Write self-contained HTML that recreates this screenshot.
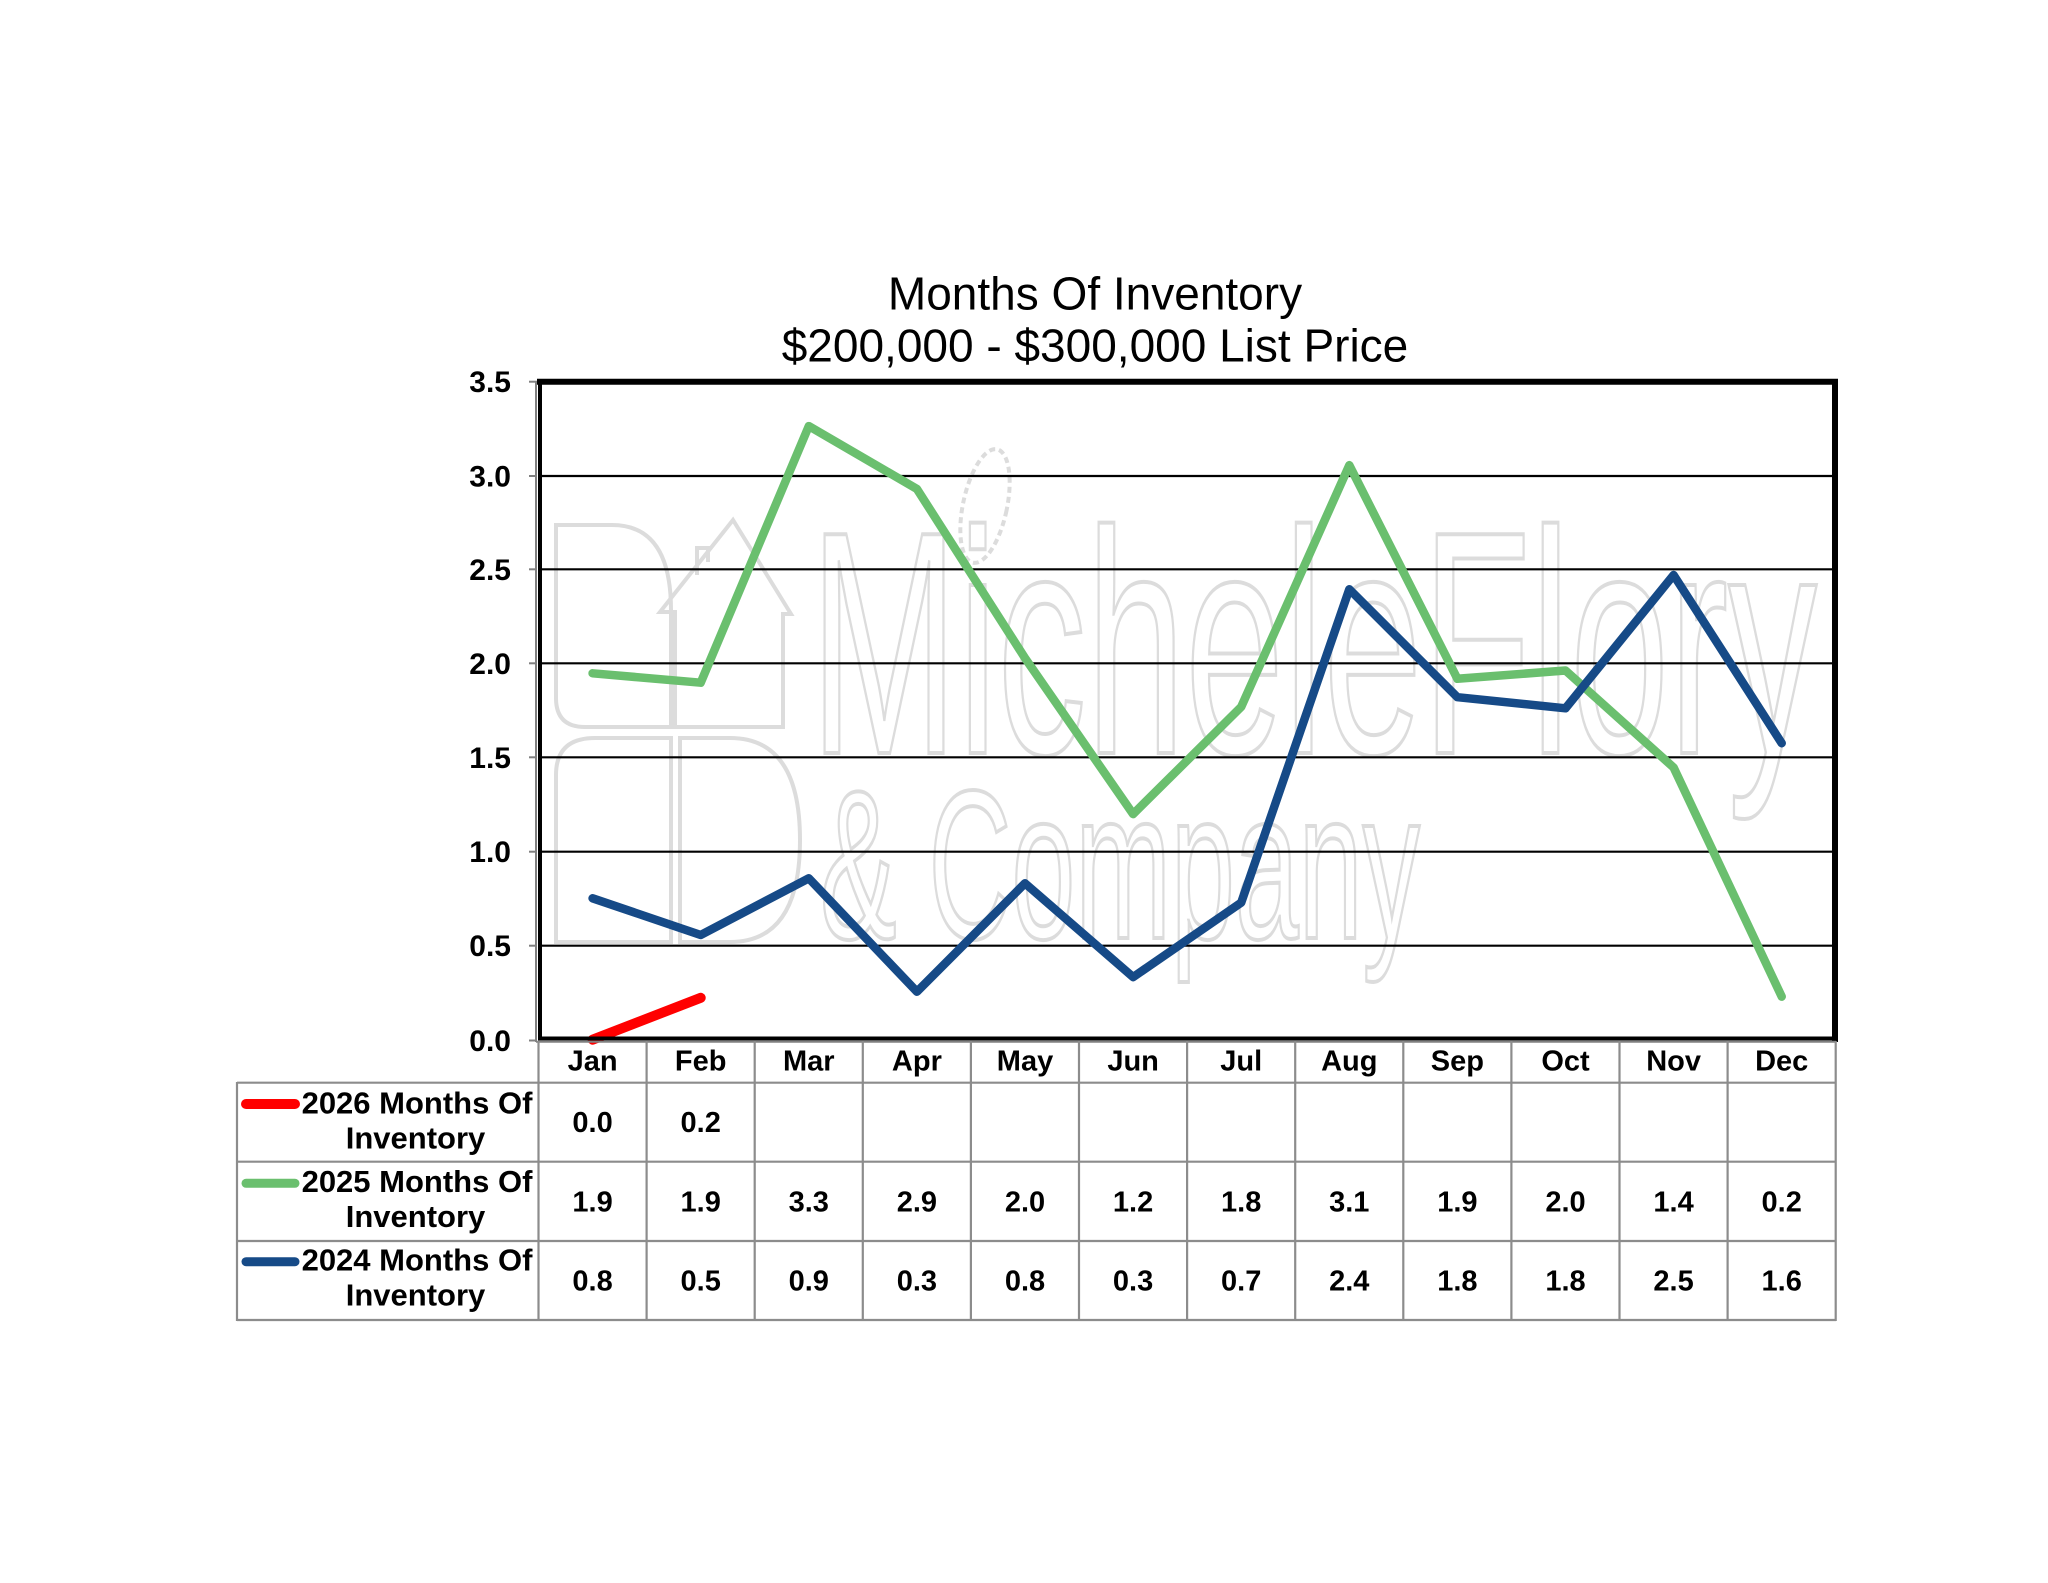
<!DOCTYPE html>
<html>
<head>
<meta charset="utf-8">
<style>
  html, body { margin: 0; padding: 0; background: #ffffff; }
  svg { display: block; }
  text { font-family: "Liberation Sans", Arial, sans-serif; }
</style>
</head>
<body>
<svg width="2048" height="1583" viewBox="0 0 2048 1583" xmlns="http://www.w3.org/2000/svg">
  <rect x="0" y="0" width="2048" height="1583" fill="#ffffff"/>

  <!-- Title -->
  <text x="1095" y="309.3" font-size="46" text-anchor="middle" fill="#000">Months Of Inventory</text>
  <text x="1095" y="361.7" font-size="46" text-anchor="middle" fill="#000">$200,000 - $300,000 List Price</text>

  <!-- Watermark -->
  <g fill="none" stroke="#dcdcdc" stroke-width="4">
    <!-- upper logo D -->
    <path d="M556,525 H612 Q671,525 671,610 V727 H585 Q556,727 556,698 Z"/>
    <!-- house -->
    <path d="M675,727 V612 H660 L733,520 L791,614 H783 V727 Z"/>
    <path d="M697,575 V548 H708 V562"/>
    <!-- lower logo -->
    <path d="M556,942 V775 Q556,738 595,738 H671 V942 Z"/>
    <path d="M680,942 V738 H730 Q800,738 800,840 Q800,942 730,942 Z"/>
    <!-- feather -->
    <ellipse cx="985" cy="506" rx="22" ry="58" transform="rotate(12 985 506)" stroke-dasharray="6 4"/>
    <text x="810" y="753" font-size="318" textLength="1007" lengthAdjust="spacingAndGlyphs" stroke="#dcdcdc" stroke-width="4" fill="none">MicheleFlory</text>
    <text x="820" y="938" font-size="212" textLength="600" lengthAdjust="spacingAndGlyphs" stroke="#dcdcdc" stroke-width="4" fill="none">&amp; Company</text>
  </g>

  <!-- Gridlines -->
  <g stroke="#000" stroke-width="2.2">
    <line x1="540" y1="476" x2="1835" y2="476"/>
    <line x1="540" y1="569.3" x2="1835" y2="569.3"/>
    <line x1="540" y1="663.3" x2="1835" y2="663.3"/>
    <line x1="540" y1="757.3" x2="1835" y2="757.3"/>
    <line x1="540" y1="851.7" x2="1835" y2="851.7"/>
    <line x1="540" y1="945.7" x2="1835" y2="945.7"/>
  </g>

  <!-- Ticks -->
  <g stroke="#808080" stroke-width="2">
    <line x1="529" y1="381.7" x2="537" y2="381.7"/>
    <line x1="529" y1="476" x2="537" y2="476"/>
    <line x1="529" y1="569.3" x2="537" y2="569.3"/>
    <line x1="529" y1="663.3" x2="537" y2="663.3"/>
    <line x1="529" y1="757.3" x2="537" y2="757.3"/>
    <line x1="529" y1="851.7" x2="537" y2="851.7"/>
    <line x1="529" y1="945.7" x2="537" y2="945.7"/>
    <line x1="529" y1="1040.5" x2="537" y2="1040.5"/>
    <line x1="536" y1="381" x2="536" y2="1042"/>
  </g>

  <!-- Y axis labels -->
  <g font-size="30" font-weight="bold" text-anchor="end" fill="#000">
    <text x="511" y="392">3.5</text>
    <text x="511" y="486.5">3.0</text>
    <text x="511" y="580">2.5</text>
    <text x="511" y="674">2.0</text>
    <text x="511" y="768">1.5</text>
    <text x="511" y="862">1.0</text>
    <text x="511" y="956">0.5</text>
    <text x="511" y="1051">0.0</text>
  </g>

  <!-- Series -->
  <g fill="none" stroke-linecap="round" stroke-linejoin="round">
    <polyline stroke="#6abf6e" stroke-width="8.5" points="592.6,673.3 700.7,682.7 808.8,426.1 916.9,488.9 1025,658.1 1133.1,814.1 1241.2,706.9 1349.3,465.2 1457.4,678.8 1565.5,670.5 1673.6,767.5 1781.7,996.6"/>
    <polyline stroke="#164a87" stroke-width="8.5" points="592.6,898.3 700.7,935 808.8,878.3 916.9,991.7 1025,883.3 1133.1,977.1 1241.2,902.6 1349.3,589.3 1457.4,697.2 1565.5,708.3 1673.6,575 1781.7,743.2"/>
    <polyline stroke="#ff0000" stroke-width="10" points="592.6,1039.7 700.7,997.8"/>
  </g>

  <!-- Plot frame -->
  <g stroke="#000" fill="none">
    <line x1="537" y1="381.7" x2="1838" y2="381.7" stroke-width="6"/>
    <line x1="1835" y1="379" x2="1835" y2="1042" stroke-width="6"/>
    <line x1="540" y1="380" x2="540" y2="1040" stroke-width="4"/>
    <line x1="538" y1="1038.5" x2="1838" y2="1038.5" stroke-width="4"/>
  </g>
  <line x1="536" y1="1041.8" x2="1836" y2="1041.8" stroke="#808080" stroke-width="2"/>

  <!-- Data table grid -->
  <g stroke="#8c8c8c" stroke-width="2.2">
    <line x1="237" y1="1082.7" x2="1836" y2="1082.7"/>
    <line x1="237" y1="1161.7" x2="1836" y2="1161.7"/>
    <line x1="237" y1="1241" x2="1836" y2="1241"/>
    <line x1="237" y1="1320" x2="1836" y2="1320"/>
    <line x1="237" y1="1082" x2="237" y2="1321"/>
    <line x1="538.5" y1="1041" x2="538.5" y2="1321"/>
    <line x1="646.6" y1="1041" x2="646.6" y2="1321"/>
    <line x1="754.7" y1="1041" x2="754.7" y2="1321"/>
    <line x1="862.8" y1="1041" x2="862.8" y2="1321"/>
    <line x1="970.9" y1="1041" x2="970.9" y2="1321"/>
    <line x1="1079" y1="1041" x2="1079" y2="1321"/>
    <line x1="1187.1" y1="1041" x2="1187.1" y2="1321"/>
    <line x1="1295.2" y1="1041" x2="1295.2" y2="1321"/>
    <line x1="1403.3" y1="1041" x2="1403.3" y2="1321"/>
    <line x1="1511.4" y1="1041" x2="1511.4" y2="1321"/>
    <line x1="1619.5" y1="1041" x2="1619.5" y2="1321"/>
    <line x1="1727.6" y1="1041" x2="1727.6" y2="1321"/>
    <line x1="1835.7" y1="1041" x2="1835.7" y2="1321"/>
  </g>

  <!-- Month headers -->
  <g font-size="29" font-weight="bold" text-anchor="middle" fill="#000">
    <text x="592.6" y="1070.7">Jan</text>
    <text x="700.7" y="1070.7">Feb</text>
    <text x="808.8" y="1070.7">Mar</text>
    <text x="916.9" y="1070.7">Apr</text>
    <text x="1025" y="1070.7">May</text>
    <text x="1133.1" y="1070.7">Jun</text>
    <text x="1241.2" y="1070.7">Jul</text>
    <text x="1349.3" y="1070.7">Aug</text>
    <text x="1457.4" y="1070.7">Sep</text>
    <text x="1565.5" y="1070.7">Oct</text>
    <text x="1673.6" y="1070.7">Nov</text>
    <text x="1781.7" y="1070.7">Dec</text>
  </g>

  <!-- Table values -->
  <g font-size="29" font-weight="bold" text-anchor="middle" fill="#000">
    <text x="592.6" y="1132">0.0</text>
    <text x="700.7" y="1132">0.2</text>

    <text x="592.6" y="1211.5">1.9</text>
    <text x="700.7" y="1211.5">1.9</text>
    <text x="808.8" y="1211.5">3.3</text>
    <text x="916.9" y="1211.5">2.9</text>
    <text x="1025" y="1211.5">2.0</text>
    <text x="1133.1" y="1211.5">1.2</text>
    <text x="1241.2" y="1211.5">1.8</text>
    <text x="1349.3" y="1211.5">3.1</text>
    <text x="1457.4" y="1211.5">1.9</text>
    <text x="1565.5" y="1211.5">2.0</text>
    <text x="1673.6" y="1211.5">1.4</text>
    <text x="1781.7" y="1211.5">0.2</text>

    <text x="592.6" y="1290.5">0.8</text>
    <text x="700.7" y="1290.5">0.5</text>
    <text x="808.8" y="1290.5">0.9</text>
    <text x="916.9" y="1290.5">0.3</text>
    <text x="1025" y="1290.5">0.8</text>
    <text x="1133.1" y="1290.5">0.3</text>
    <text x="1241.2" y="1290.5">0.7</text>
    <text x="1349.3" y="1290.5">2.4</text>
    <text x="1457.4" y="1290.5">1.8</text>
    <text x="1565.5" y="1290.5">1.8</text>
    <text x="1673.6" y="1290.5">2.5</text>
    <text x="1781.7" y="1290.5">1.6</text>
  </g>

  <!-- Legend keys -->
  <g stroke-linecap="round">
    <line x1="246" y1="1104" x2="295" y2="1104" stroke="#ff0000" stroke-width="10"/>
    <line x1="246" y1="1183.3" x2="295" y2="1183.3" stroke="#6abf6e" stroke-width="9"/>
    <line x1="246" y1="1261.7" x2="295" y2="1261.7" stroke="#164a87" stroke-width="9"/>
  </g>

  <!-- Legend labels -->
  <g font-size="31" font-weight="bold" text-anchor="middle" fill="#000">
    <text x="417" y="1113.3">2026 Months Of</text>
    <text x="415.5" y="1148.3">Inventory</text>
    <text x="417" y="1192">2025 Months Of</text>
    <text x="415.5" y="1227">Inventory</text>
    <text x="417" y="1270.5">2024 Months Of</text>
    <text x="415.5" y="1305.5">Inventory</text>
  </g>
</svg>
</body>
</html>
